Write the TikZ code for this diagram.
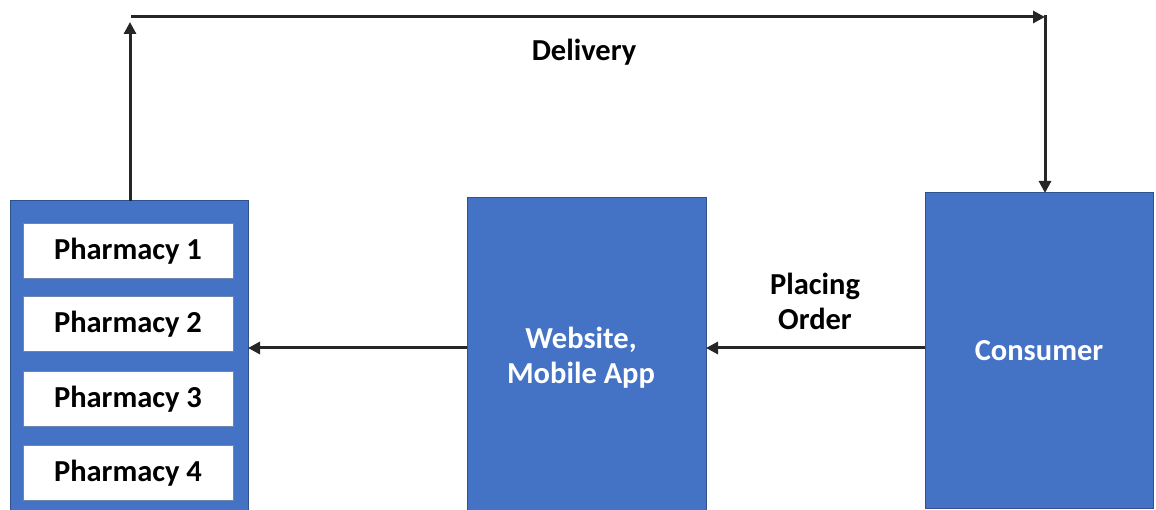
\documentclass[tikz,border=0pt]{standalone}
\usepackage{fontspec}
\setmainfont{Carlito}
\usetikzlibrary{arrows.meta}
\definecolor{boxblue}{HTML}{4472C4}
\definecolor{boxedge}{HTML}{2F528F}
\definecolor{linegray}{HTML}{262626}
\tikzset{
  bigfont/.style={font=\fontsize{30.5}{35}\selectfont\bfseries},
  bluebox/.style={draw=boxedge, line width=1pt, fill=boxblue, inner sep=0pt, outer sep=0pt,
    text=white, bigfont, align=center},
  itembox/.style={draw=boxedge!70, line width=1pt, fill=white, inner sep=0pt, outer sep=0pt,
    minimum width=210pt, minimum height=55pt, bigfont},
  lbl/.style={bigfont, align=center, inner sep=0pt},
  arr/.style={draw=linegray, line width=3pt, -{Triangle[length=12pt,width=12pt]}},
}
\begin{document}
\begin{tikzpicture}[x=1pt,y=-1pt]
  \useasboundingbox (0,0) rectangle (1156,510);
  \clip (0,0) rectangle (1156,510);

  % Pharmacy group
  \node[bluebox, anchor=north west, minimum width=238pt, minimum height=330pt] (pharm) at (10,201) {};
  \node[itembox] (p1) at (128,251) {Pharmacy 1};
  \node[itembox] (p2) at (128,324.5) {Pharmacy 2};
  \node[itembox] (p3) at (128,399) {Pharmacy 3};
  \node[itembox] (p4) at (128,473) {Pharmacy 4};

  % Ordering platform and consumer
  \node[bluebox, anchor=north west, minimum width=239pt, minimum height=340pt] (web) at (467,198) {};
  \node[lbl, text=white] (webtxt) at (581,358) {Website,\\Mobile App};
  \node[bluebox, anchor=north west, minimum width=228pt, minimum height=315pt] (cons) at (925,193) {Consumer};

  % Route helper points
  \coordinate (ord) at (0,348);
  \coordinate (up) at (130,22);
  \coordinate (c1) at (131,17);
  \coordinate (c2) at (1045,17);

  % Connectors
  \draw[arr] (cons.west |- ord) -- (web.east |- ord);
  \draw[arr] (web.west |- ord) -- (pharm.east |- ord);
  \draw[arr] (pharm.north -| up) -- (up);
  \draw[arr] (c1) -- (c2);
  \draw[arr, shorten <=-1.5pt] (c2) -- (cons.north -| c2);

  % Labels
  \node[lbl] (deliv) at (584,52) {Delivery};
  \node[lbl] (placing) at (815,301) {Placing\\Order};
\end{tikzpicture}
\end{document}
